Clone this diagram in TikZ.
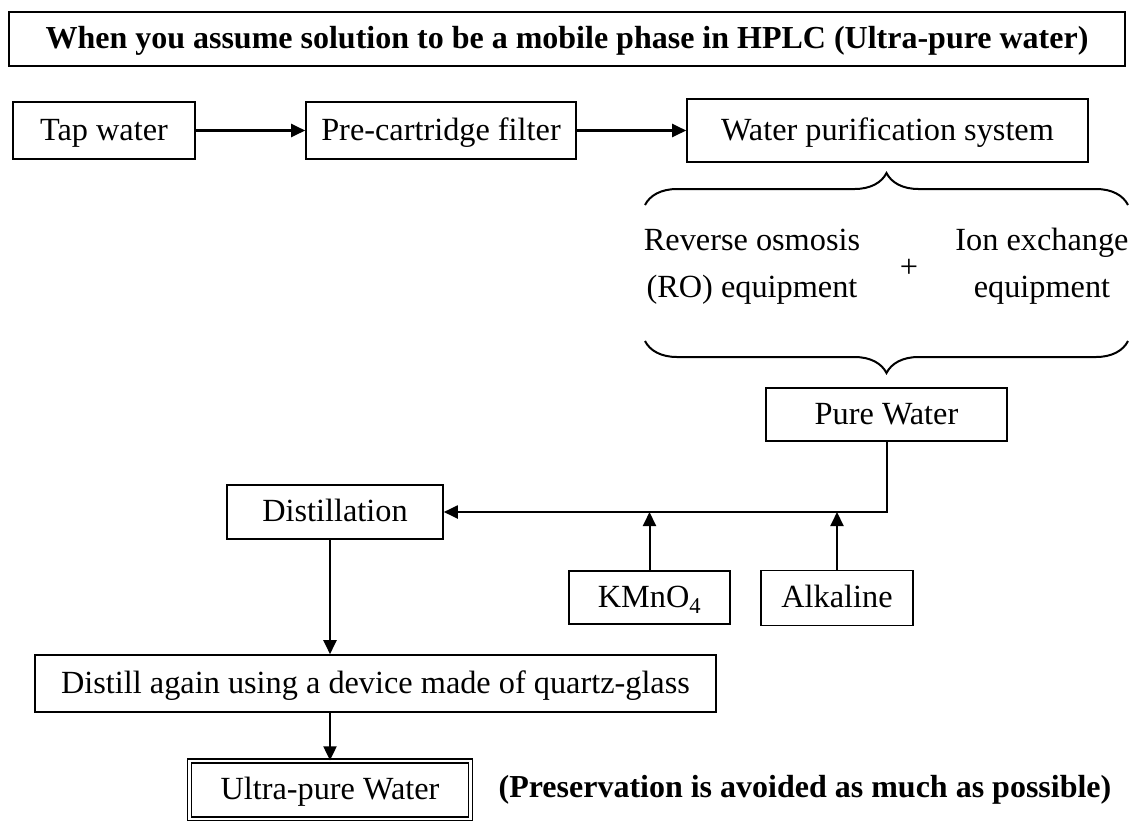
\documentclass[tikz,border=0pt]{standalone}
\usepackage{fontspec}
\setmainfont{Liberation Serif}
\usetikzlibrary{arrows.meta, decorations.pathreplacing, positioning}

\begin{document}
\begin{tikzpicture}[x=1pt, y=-1pt,
    every node/.style={font=\fontsize{32.3}{38}\selectfont},
    box/.style={draw, line width=1.6pt, inner sep=0pt, text height=25pt, text depth=6pt},
    arr/.style={-{Triangle[length=14pt, width=13pt]}, line width=2.2pt},
    brace/.style={decorate, decoration={brace, amplitude=32pt}, line width=2pt}]

    \useasboundingbox (0,0) rectangle (1129,820);

    % Title
    \node[box, minimum width=1116pt, minimum height=54pt,
          font=\bfseries\fontsize{32}{38}\selectfont] (title) at (567,39)
          {When you assume solution to be a mobile phase in HPLC (Ultra-pure water)};

    % Nodes of the flow
    \node[box, minimum width=182pt, minimum height=57pt] (tap) at (104,130.5) {Tap water};
    \node[box, minimum width=270pt, minimum height=57pt] (pre) at (441,130.5) {Pre-cartridge filter};
    \node[box, minimum width=401pt, minimum height=63pt] (wps) at (887.5,130.5) {Water purification system};
    \node[align=center, font=\fontsize{32.3}{47}\selectfont] (ro) at (752,267) {Reverse osmosis\\(RO) equipment};
    \node (plus) at (909,268) {+};
    \node[align=center, font=\fontsize{32.3}{47}\selectfont] (ion) at (1042,266) {Ion exchange\\equipment};
    \node[box, minimum width=241pt, minimum height=53pt] (pure) at (886.5,414.5) {Pure Water};
    \node[box, minimum width=216pt, minimum height=54pt] (dist) at (335,512) {Distillation};
    \node[box, minimum width=161pt, minimum height=53pt] (kmno) at (649.5,597.5) {KMnO\textsubscript{4}};
    \node[box, minimum width=152pt, minimum height=55pt] (alk) at (837,598) {Alkaline};
    \node[box, minimum width=681pt, minimum height=57pt] (again) at (375.5,683.5)
          {Distill again using a device made of quartz-glass};
    \node[box, double, double distance=2.6pt, line width=1.3pt,
          minimum width=281pt, minimum height=58pt] (ultra) at (330,790) {Ultra-pure Water};
    \node[font=\bfseries\fontsize{32}{38}\selectfont] (note) at (805,790)
          {(Preservation is avoided as much as possible)};

    % Braces
    \draw[brace] (645,205) -- (1128,205);
    \draw[brace] (1128,341) -- (645,341);

    % Edges
    \draw[arr] (tap) -- (pre);
    \draw[arr] (pre) -- (wps);
    \draw[arr, line width=2pt] (pure.south) |- (dist.east);
    \draw[arr, line width=2pt] (kmno.north) -- (kmno.north |- dist.east);
    \draw[arr, line width=2pt] (alk.north) -- (alk.north |- dist.east);
    \draw[arr, line width=2pt] (ultra.north |- dist.south) -- (ultra.north |- again.north);
    \draw[arr, line width=2pt] (ultra.north |- again.south) -- (ultra.north);

\end{tikzpicture}
\end{document}
